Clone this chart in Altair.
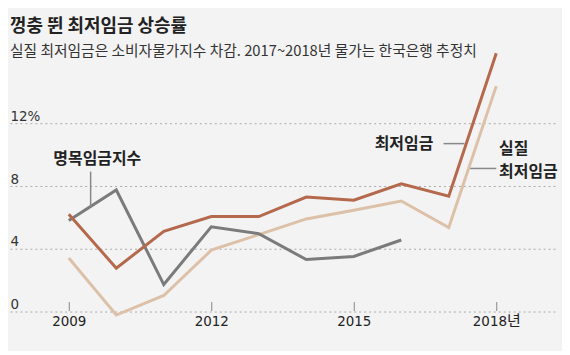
import altair as alt
import pandas as pd

# ---- data ----
years = list(range(2009, 2019))
min_wage = [6.2, 2.75, 5.1, 6.05, 6.05, 7.3, 7.1, 8.15, 7.35, 16.5]
real_min_wage = [3.4, -0.25, 1.0, 3.9, 4.9, 5.9, 6.45, 7.05, 5.35, 14.4]
wage_index_years = list(range(2009, 2017))
wage_index = [5.8, 7.75, 1.7, 5.4, 4.95, 3.3, 3.5, 4.55]

series_names = ["실질 최저임금", "명목임금지수", "최저임금"]
series_colors = ["#dcc1a8", "#7b7b7b", "#b5694c"]

y_ticks = [0, 4, 8, 12]
x_ticks = [2009, 2012, 2015, 2018]

# annotation labels (data coordinates)
label_text = ["명목임금지수", "최저임금", "실질", "최저임금"]
label_x = [2009.6, 2015.44, 2018.06, 2018.06]
label_y = [9.73, 10.69, 10.38, 8.88]
label_align = ["center", "left", "left", "left"]

leader_x = [2009.46, 2016.89, 2017.45]
leader_x2 = [2009.46, 2017.33, 2018.0]
leader_y = [8.93, 10.72, 9.13]
leader_y2 = [6.67, 10.72, 9.13]

NUM_FONT = "Liberation Sans Narrow, DejaVu Sans Condensed, Noto Sans CJK KR, sans-serif"
KR_FONT = "Noto Sans CJK KR"

rows = []
for y, v in zip(years, real_min_wage):
    rows.append({"year": y, "value": v, "series": series_names[0], "o": 0})
for y, v in zip(wage_index_years, wage_index):
    rows.append({"year": y, "value": v, "series": series_names[1], "o": 1})
for y, v in zip(years, min_wage):
    rows.append({"year": y, "value": v, "series": series_names[2], "o": 2})
df = pd.DataFrame(rows)

labels = pd.DataFrame({"text": label_text, "x": label_x, "y": label_y, "align": label_align})
leaders = pd.DataFrame({"x": leader_x, "x2": leader_x2, "y": leader_y, "y2": leader_y2})

xscale = alt.Scale(domain=[2007.762, 2019.279], nice=False, zero=False)
yscale = alt.Scale(domain=[-0.6, 17.0], nice=False, zero=False)

lines = alt.Chart(df).mark_line(strokeWidth=3, strokeJoin="miter").encode(
    x=alt.X("year:Q", scale=xscale,
            axis=alt.Axis(values=x_ticks, orient="bottom", offset=-19, domain=False,
                          ticks=True, tickSize=9, tickColor="#888", tickWidth=1,
                          grid=False, labelPadding=3, labelFont=NUM_FONT,
                          labelFontSize=15, labelColor="#222",
                          labelExpr="datum.value == 2018 ? '2018년' : datum.value",
                          title=None)),
    y=alt.Y("value:Q", scale=yscale,
            axis=alt.Axis(values=y_ticks, grid=True, gridDash=[2, 3], gridColor="#aaa",
                          gridWidth=1, domain=False, ticks=False, tickSize=0,
                          labelAlign="left", labelBaseline="alphabetic", labelPadding=0,
                          labelOffset=-3, labelFont=NUM_FONT, labelFontSize=15,
                          labelColor="#333",
                          labelExpr="datum.value == 12 ? '12%' : datum.label",
                          title=None)),
    color=alt.Color("series:N", scale=alt.Scale(domain=series_names, range=series_colors),
                    legend=None),
    detail="series:N",
    order=alt.Order("o:Q"),
)

leader_rules = alt.Chart(leaders).mark_rule(color="#888", strokeWidth=1.5).encode(
    x=alt.X("x:Q", scale=xscale), x2="x2:Q",
    y=alt.Y("y:Q", scale=yscale), y2="y2:Q",
)

center_labels = alt.Chart(labels[labels["align"] == "center"]).mark_text(
    align="center", baseline="middle", font=KR_FONT, fontSize=16, fontWeight="bold",
    color="#222").encode(
    x=alt.X("x:Q", scale=xscale), y=alt.Y("y:Q", scale=yscale), text="text:N")

left_labels = alt.Chart(labels[labels["align"] == "left"]).mark_text(
    align="left", baseline="middle", font=KR_FONT, fontSize=16, fontWeight="bold",
    color="#222").encode(
    x=alt.X("x:Q", scale=xscale), y=alt.Y("y:Q", scale=yscale), text="text:N")

chart = alt.layer(lines, leader_rules, center_labels, left_labels).properties(
    width=549,
    height=276,
    autosize=alt.AutoSizeParams(type="none"),
    padding={"left": 2, "top": 37, "right": 5, "bottom": 30},
    background="#f3f3f3",
    title=alt.Title(
        "껑충 뛴 최저임금 상승률",
        subtitle="실질 최저임금은 소비자물가지수 차감. 2017~2018년 물가는 한국은행 추정치",
        anchor="start", frame="group", offset=-13,
        font=KR_FONT, fontSize=18, fontWeight="bold", color="#222",
        subtitleFont=KR_FONT, subtitleFontSize=14.8, subtitleColor="#333",
        subtitlePadding=8,
    ),
).configure_view(stroke=None)

chart.save("out.html", embed_options={"renderer": "svg", "actions": False})
